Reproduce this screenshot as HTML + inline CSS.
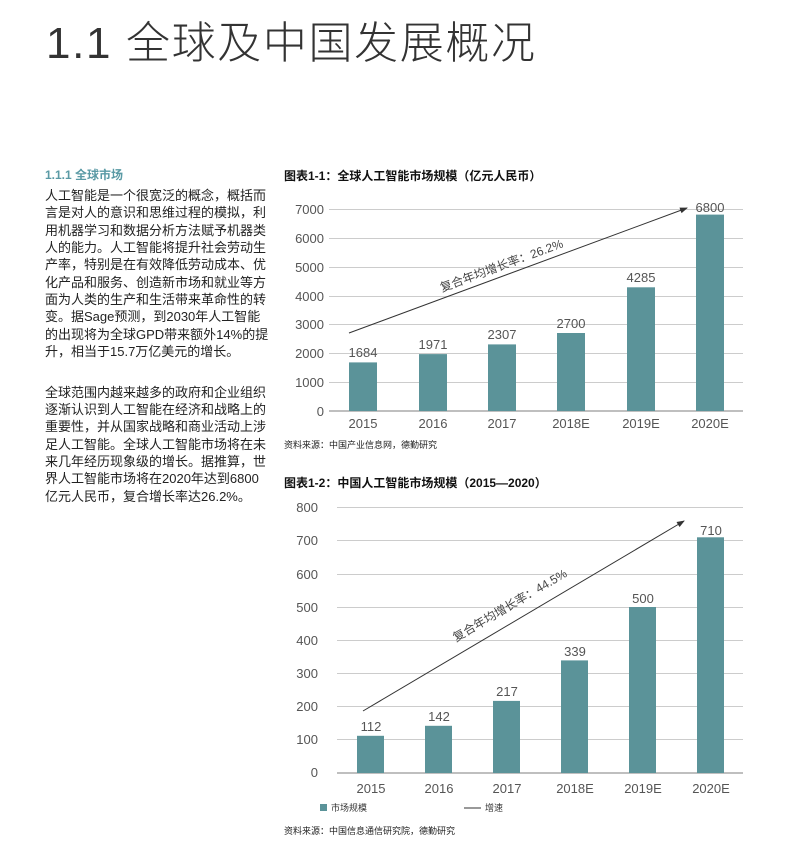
<!DOCTYPE html>
<html><head><meta charset="utf-8"><style>
body{margin:0;background:#fff;width:791px;height:860px;overflow:hidden;font-family:"Liberation Sans","Noto Sans CJK SC",sans-serif;}
</style></head><body>
<svg width="791" height="860" xmlns="http://www.w3.org/2000/svg" style="position:absolute;left:0;top:0" font-family="Liberation Sans, Noto Sans CJK SC, sans-serif">
<defs><marker id="ah" markerWidth="8" markerHeight="8" refX="7" refY="4" orient="auto"><path d="M0,1 L8,4 L0,7 Z" fill="#333"/></marker></defs>
<text x="46" y="58" font-size="44" fill="#333" font-weight="300" textLength="489" lengthAdjust="spacing">1.1 全球及中国发展概况</text>
<text x="45" y="179" font-size="12" fill="#5a9aa5" font-weight="bold">1.1.1 全球市场</text>
<g font-size="13" fill="#222">
<text x="45" y="200">人工智能是一个很宽泛的概念，概括而</text>
<text x="45" y="217">言是对人的意识和思维过程的模拟，利</text>
<text x="45" y="235">用机器学习和数据分析方法赋予机器类</text>
<text x="45" y="252">人的能力。人工智能将提升社会劳动生</text>
<text x="45" y="269">产率，特别是在有效降低劳动成本、优</text>
<text x="45" y="287">化产品和服务、创造新市场和就业等方</text>
<text x="45" y="304">面为人类的生产和生活带来革命性的转</text>
<text x="45" y="321">变。据Sage预测，到2030年人工智能</text>
<text x="45" y="339">的出现将为全球GPD带来额外14%的提</text>
<text x="45" y="356">升，相当于15.7万亿美元的增长。</text>
<text x="45" y="397">全球范围内越来越多的政府和企业组织</text>
<text x="45" y="414">逐渐认识到人工智能在经济和战略上的</text>
<text x="45" y="431">重要性，并从国家战略和商业活动上涉</text>
<text x="45" y="449">足人工智能。全球人工智能市场将在未</text>
<text x="45" y="466">来几年经历现象级的增长。据推算，世</text>
<text x="45" y="483">界人工智能市场将在2020年达到6800</text>
<text x="45" y="501">亿元人民币，复合增长率达26.2%。</text>
</g>
<!-- Chart 1 -->
<text x="284" y="180" font-size="12" font-weight="bold" fill="#111">图表1-1：全球人工智能市场规模（亿元人民币）</text>
<g stroke="#ccc" stroke-width="1">
<line x1="329" x2="743" y1="209.5" y2="209.5"/><line x1="329" x2="743" y1="238.5" y2="238.5"/><line x1="329" x2="743" y1="267.5" y2="267.5"/><line x1="329" x2="743" y1="296.5" y2="296.5"/><line x1="329" x2="743" y1="324.5" y2="324.5"/><line x1="329" x2="743" y1="353.5" y2="353.5"/><line x1="329" x2="743" y1="382.5" y2="382.5"/></g>
<line x1="329" x2="743" y1="411" y2="411" stroke="#999" stroke-width="1.2"/>
<g font-size="13" fill="#555" text-anchor="end">
<text x="324" y="214">7000</text><text x="324" y="243">6000</text><text x="324" y="272">5000</text><text x="324" y="301">4000</text><text x="324" y="329">3000</text><text x="324" y="358">2000</text><text x="324" y="387">1000</text><text x="324" y="416">0</text></g>
<g fill="#5b9399">
<rect x="349" y="362.4" width="28" height="48.6"/><rect x="419" y="354.1" width="28" height="56.9"/><rect x="488" y="344.4" width="28" height="66.6"/><rect x="557" y="333" width="28" height="78"/><rect x="627" y="287.3" width="28" height="123.7"/><rect x="696" y="214.6" width="28" height="196.4"/></g>
<g font-size="13" fill="#555" text-anchor="middle">
<text x="363" y="357">1684</text><text x="433" y="349">1971</text><text x="502" y="339">2307</text><text x="571" y="328">2700</text><text x="641" y="282">4285</text><text x="710" y="212">6800</text>
<text x="363" y="428">2015</text><text x="433" y="428">2016</text><text x="502" y="428">2017</text><text x="571" y="428">2018E</text><text x="641" y="428">2019E</text><text x="710" y="428">2020E</text></g>
<line x1="349" y1="333" x2="687" y2="208" stroke="#333" stroke-width="1" marker-end="url(#ah)"/>
<text x="0" y="0" font-size="12" fill="#444" transform="translate(442,292) rotate(-20.3)">复合年均增长率：26.2%</text>
<text x="284" y="448" font-size="9" fill="#222">资料来源：中国产业信息网，德勤研究</text>
<!-- Chart 2 -->
<text x="284" y="487" font-size="12" font-weight="bold" fill="#111">图表1-2：中国人工智能市场规模（2015—2020）</text>
<g stroke="#ccc" stroke-width="1">
<line x1="337" x2="743" y1="507.5" y2="507.5"/><line x1="337" x2="743" y1="540.5" y2="540.5"/><line x1="337" x2="743" y1="574.5" y2="574.5"/><line x1="337" x2="743" y1="607.5" y2="607.5"/><line x1="337" x2="743" y1="640.5" y2="640.5"/><line x1="337" x2="743" y1="673.5" y2="673.5"/><line x1="337" x2="743" y1="706.5" y2="706.5"/><line x1="337" x2="743" y1="739.5" y2="739.5"/></g>
<line x1="337" x2="743" y1="773" y2="773" stroke="#999" stroke-width="1.2"/>
<g font-size="13" fill="#555" text-anchor="end">
<text x="318" y="512">800</text><text x="318" y="545">700</text><text x="318" y="579">600</text><text x="318" y="612">500</text><text x="318" y="645">400</text><text x="318" y="678">300</text><text x="318" y="711">200</text><text x="318" y="744">100</text><text x="318" y="777">0</text></g>
<g fill="#5b9399">
<rect x="357" y="735.8" width="27" height="37.2"/><rect x="425" y="725.8" width="27" height="47.2"/><rect x="493" y="700.9" width="27" height="72.1"/><rect x="561" y="660.4" width="27" height="112.6"/><rect x="629" y="607" width="27" height="166"/><rect x="697" y="537.3" width="27" height="235.7"/></g>
<g font-size="13" fill="#555" text-anchor="middle">
<text x="371" y="731">112</text><text x="439" y="721">142</text><text x="507" y="696">217</text><text x="575" y="656">339</text><text x="643" y="603">500</text><text x="711" y="535">710</text>
<text x="371" y="793">2015</text><text x="439" y="793">2016</text><text x="507" y="793">2017</text><text x="575" y="793">2018E</text><text x="643" y="793">2019E</text><text x="711" y="793">2020E</text></g>
<line x1="363" y1="711" x2="684" y2="521" stroke="#333" stroke-width="1" marker-end="url(#ah)"/>
<text x="0" y="0" font-size="12" fill="#444" transform="translate(456,642) rotate(-30.6)">复合年均增长率：44.5%</text>
<rect x="320" y="804" width="7" height="7" fill="#5b9399"/>
<text x="331" y="811" font-size="9" fill="#333">市场规模</text>
<line x1="464" x2="481" y1="808" y2="808" stroke="#333"/>
<text x="485" y="811" font-size="9" fill="#333">增速</text>
<text x="284" y="834" font-size="9" fill="#222">资料来源：中国信息通信研究院，德勤研究</text>
</svg>
</body></html>
